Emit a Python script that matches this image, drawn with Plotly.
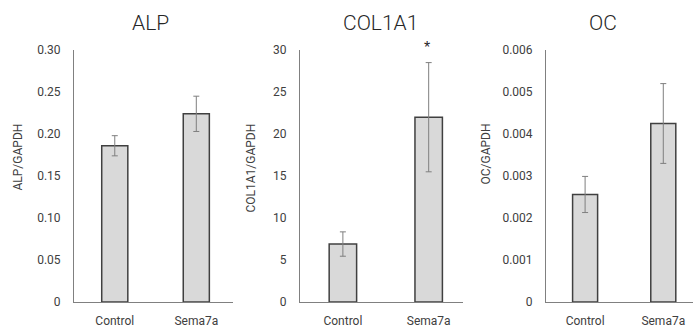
import plotly.graph_objects as go

categories = ["Control", "Sema7a"]
alp_values = [0.186, 0.224]
alp_errors = [0.012, 0.021]
col_values = [6.9, 22.0]
col_errors = [1.45, 6.5]
oc_values = [0.00256, 0.00425]
oc_errors = [0.00043, 0.00095]

titles = ["ALP", "COL1A1", "OC"]
ylabels = ["ALP/GAPDH", "COL1A1/GAPDH", "OC/GAPDH"]
ytick_vals = [
    [0, 0.05, 0.10, 0.15, 0.20, 0.25, 0.30],
    [0, 5, 10, 15, 20, 25, 30],
    [0, 0.001, 0.002, 0.003, 0.004, 0.005, 0.006],
]
ytick_text = [
    ["0", "0.05", "0.10", "0.15", "0.20", "0.25", "0.30"],
    ["0", "5", "10", "15", "20", "25", "30"],
    ["0", "0.001", "0.002", "0.003", "0.004", "0.005", "0.006"],
]
yranges = [[0, 0.30], [0, 30], [0, 0.006]]

W, H = 693, 328
xdoms = [(74, 233), (300, 463), (546, 693)]
xranges = [[-0.5, 1.45], [-0.5, 1.40], [-0.5, 1.38]]
ytitle_x = [17, 250, 485]
title_xs = [150, 380, 603]
ydom = [(H - 302) / H, (H - 50) / H]

FONT = "Liberation Sans, Arial, sans-serif"
TFONT = "Roboto, Liberation Sans, sans-serif"
series = [(alp_values, alp_errors), (col_values, col_errors), (oc_values, oc_errors)]

fig = go.Figure()
layout = dict(
    template="none",
    width=W, height=H,
    margin=dict(l=0, r=0, t=0, b=0, pad=0),
    paper_bgcolor="white", plot_bgcolor="white",
    showlegend=False,
    font=dict(family=FONT, color="#595959", size=12),
    annotations=[],
)

for i, (vals, errs) in enumerate(series):
    xa = "x" if i == 0 else f"x{i+1}"
    ya = "y" if i == 0 else f"y{i+1}"
    fig.add_trace(go.Bar(
        x=[0, 1], y=vals, width=0.32,
        marker=dict(color="#d9d9d9", line=dict(color="#404040", width=1.5)),
        error_y=dict(type="data", array=errs, color="#7f7f7f", thickness=1, width=3),
        xaxis=xa, yaxis=ya, hoverinfo="skip",
    ))
    xkey = "xaxis" if i == 0 else f"xaxis{i+1}"
    ykey = "yaxis" if i == 0 else f"yaxis{i+1}"
    layout[xkey] = dict(
        domain=[xdoms[i][0] / W, xdoms[i][1] / W],
        range=xranges[i], anchor=ya, automargin=False,
        tickvals=[0, 1], ticktext=categories,
        showgrid=False, zeroline=False,
        showline=True, linecolor="#808080", linewidth=1,
        ticks="outside", ticklen=8, tickcolor="rgba(0,0,0,0)",
        tickfont=dict(size=12, color="#404040", family=TFONT),
        fixedrange=True,
    )
    layout[ykey] = dict(
        domain=ydom, range=yranges[i], anchor=xa, automargin=False,
        tickvals=ytick_vals[i], ticktext=ytick_text[i],
        showgrid=False, zeroline=False,
        showline=True, linecolor="#808080", linewidth=1,
        ticks="outside", ticklen=10, tickcolor="rgba(0,0,0,0)",
        tickfont=dict(size=12, color="#404040", family=TFONT),
        fixedrange=True,
    )
    layout["annotations"].append(dict(
        text=titles[i], x=title_xs[i] / W, y=(H - 23) / H, xref="paper", yref="paper",
        showarrow=False, font=dict(size=21, color="#262626", family=TFONT, weight=300),
        xanchor="center", yanchor="middle",
    ))
    layout["annotations"].append(dict(
        text=ylabels[i], x=ytitle_x[i] / W, y=(H - 122) / H, xref="paper", yref="paper",
        showarrow=False, textangle=-90, font=dict(size=12, color="#404040", family=TFONT),
        xanchor="center", yanchor="top",
    ))

layout["annotations"].append(dict(
    text="*", x=427 / W, y=(H - 47) / H, xref="paper", yref="paper", showarrow=False,
    font=dict(size=16, color="#262626", family=FONT), xanchor="center", yanchor="middle",
))

fig.update_layout(**layout)
fig.write_html("out.html", config={"displayModeBar": False},
               post_script="document.body.style.margin='0';")
